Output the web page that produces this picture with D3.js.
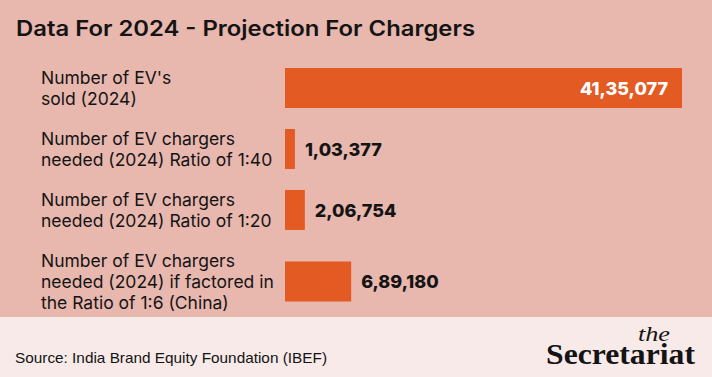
<!DOCTYPE html>
<html>
<head>
<meta charset="utf-8">
<script src="https://cdn.jsdelivr.net/npm/d3@7/dist/d3.min.js"></script>
<style>
  html, body { margin: 0; padding: 0; background: #e8b7ae; }
  svg { display: block; }
</style>
</head>
<body>
<svg id="chart" width="712" height="377"></svg>
<script>
// ---- Data ----
const title = "Data For 2024 - Projection For Chargers";
const categories = [
  ["Number of EV's", "sold (2024)"],
  ["Number of EV chargers", "needed (2024) Ratio of 1:40"],
  ["Number of EV chargers", "needed (2024) Ratio of 1:20"],
  ["Number of EV chargers", "needed (2024) if factored in", "the Ratio of 1:6 (China)"]
];
const values = [4135077, 103377, 206754, 689180];
const valueLabels = ["41,35,077", "1,03,377", "2,06,754", "6,89,180"];
const source = "Source: India Brand Equity Foundation (IBEF)";

// ---- Layout ----
const W = 712, H = 377;
const svg = d3.select("#chart");
const bg = "#e8b7ae", barColor = "#e35a23", footerBg = "#f7eae8", ink = "#141414";
const font = "Inter, 'Noto Sans', sans-serif";

svg.append("rect").attr("width", W).attr("height", H).attr("fill", bg);
svg.append("rect").attr("x", 0).attr("y", 317).attr("width", W).attr("height", H - 317).attr("fill", footerBg);

svg.append("text")
  .attr("x", 16).attr("y", 36)
  .attr("font-family", font).attr("font-weight", 600).attr("font-size", 21.5)
  .attr("fill", ink)
  .attr("textLength", 459).attr("lengthAdjust", "spacingAndGlyphs")
  .text(title);

// x scale
const x = d3.scaleLinear().domain([0, d3.max(values)]).range([285, 682]);

// row centers computed from line counts
const lineH = 21, barH = 40;
const rowSize = categories.map(c => Math.max(barH + 21, c.length * lineH + 19));
const centers = [];
categories.forEach((c, i) => {
  if (i === 0) centers.push(88);
  else centers.push(centers[i - 1] + (rowSize[i - 1] + rowSize[i]) / 2);
});
const y = d3.scaleOrdinal().domain(d3.range(categories.length)).range(centers);

const rows = svg.append("g").selectAll("g").data(categories).join("g");

rows.append("rect")
  .attr("x", x(0))
  .attr("y", (d, i) => y(i) - barH / 2)
  .attr("width", (d, i) => x(values[i]) - x(0))
  .attr("height", barH)
  .attr("fill", barColor);

rows.append("text")
  .attr("font-family", font).attr("font-size", 17.5).attr("fill", ink)
  .each(function (d, i) {
    const t = d3.select(this);
    const n = d.length;
    const firstBase = y(i) - ((n - 1) * lineH) / 2 + 6;
    d.forEach((line, k) => {
      t.append("tspan").attr("x", 41).attr("y", firstBase + k * lineH).text(line);
    });
  });

rows.append("text")
  .attr("font-family", font).attr("font-weight", 800).attr("font-size", 18)
  .attr("y", (d, i) => y(i) + 6.5)
  .attr("x", (d, i) => i === 0 ? x(values[i]) - 14 : x(values[i]) + 10)
  .attr("text-anchor", (d, i) => i === 0 ? "end" : "start")
  .attr("fill", (d, i) => i === 0 ? "#ffffff" : ink)
  .text((d, i) => valueLabels[i]);

// footer
svg.append("text")
  .attr("x", 15).attr("y", 363)
  .attr("font-family", "'Liberation Sans Narrow', 'Liberation Sans', sans-serif")
  .attr("font-size", 15).attr("fill", ink)
  .attr("textLength", 312).attr("lengthAdjust", "spacingAndGlyphs")
  .text(source);

svg.append("text")
  .attr("x", 638).attr("y", 341)
  .attr("font-family", "'Liberation Serif', 'DejaVu Serif', serif")
  .attr("font-style", "italic").attr("font-size", 21).attr("fill", ink)
  .attr("textLength", 32).attr("lengthAdjust", "spacingAndGlyphs")
  .text("the");

svg.append("text")
  .attr("x", 546).attr("y", 364)
  .attr("font-family", "'Liberation Serif', 'DejaVu Serif', serif")
  .attr("font-weight", 700).attr("font-size", 29).attr("fill", ink)
  .attr("textLength", 149).attr("lengthAdjust", "spacingAndGlyphs")
  .text("Secretariat");
</script>
</body>
</html>
